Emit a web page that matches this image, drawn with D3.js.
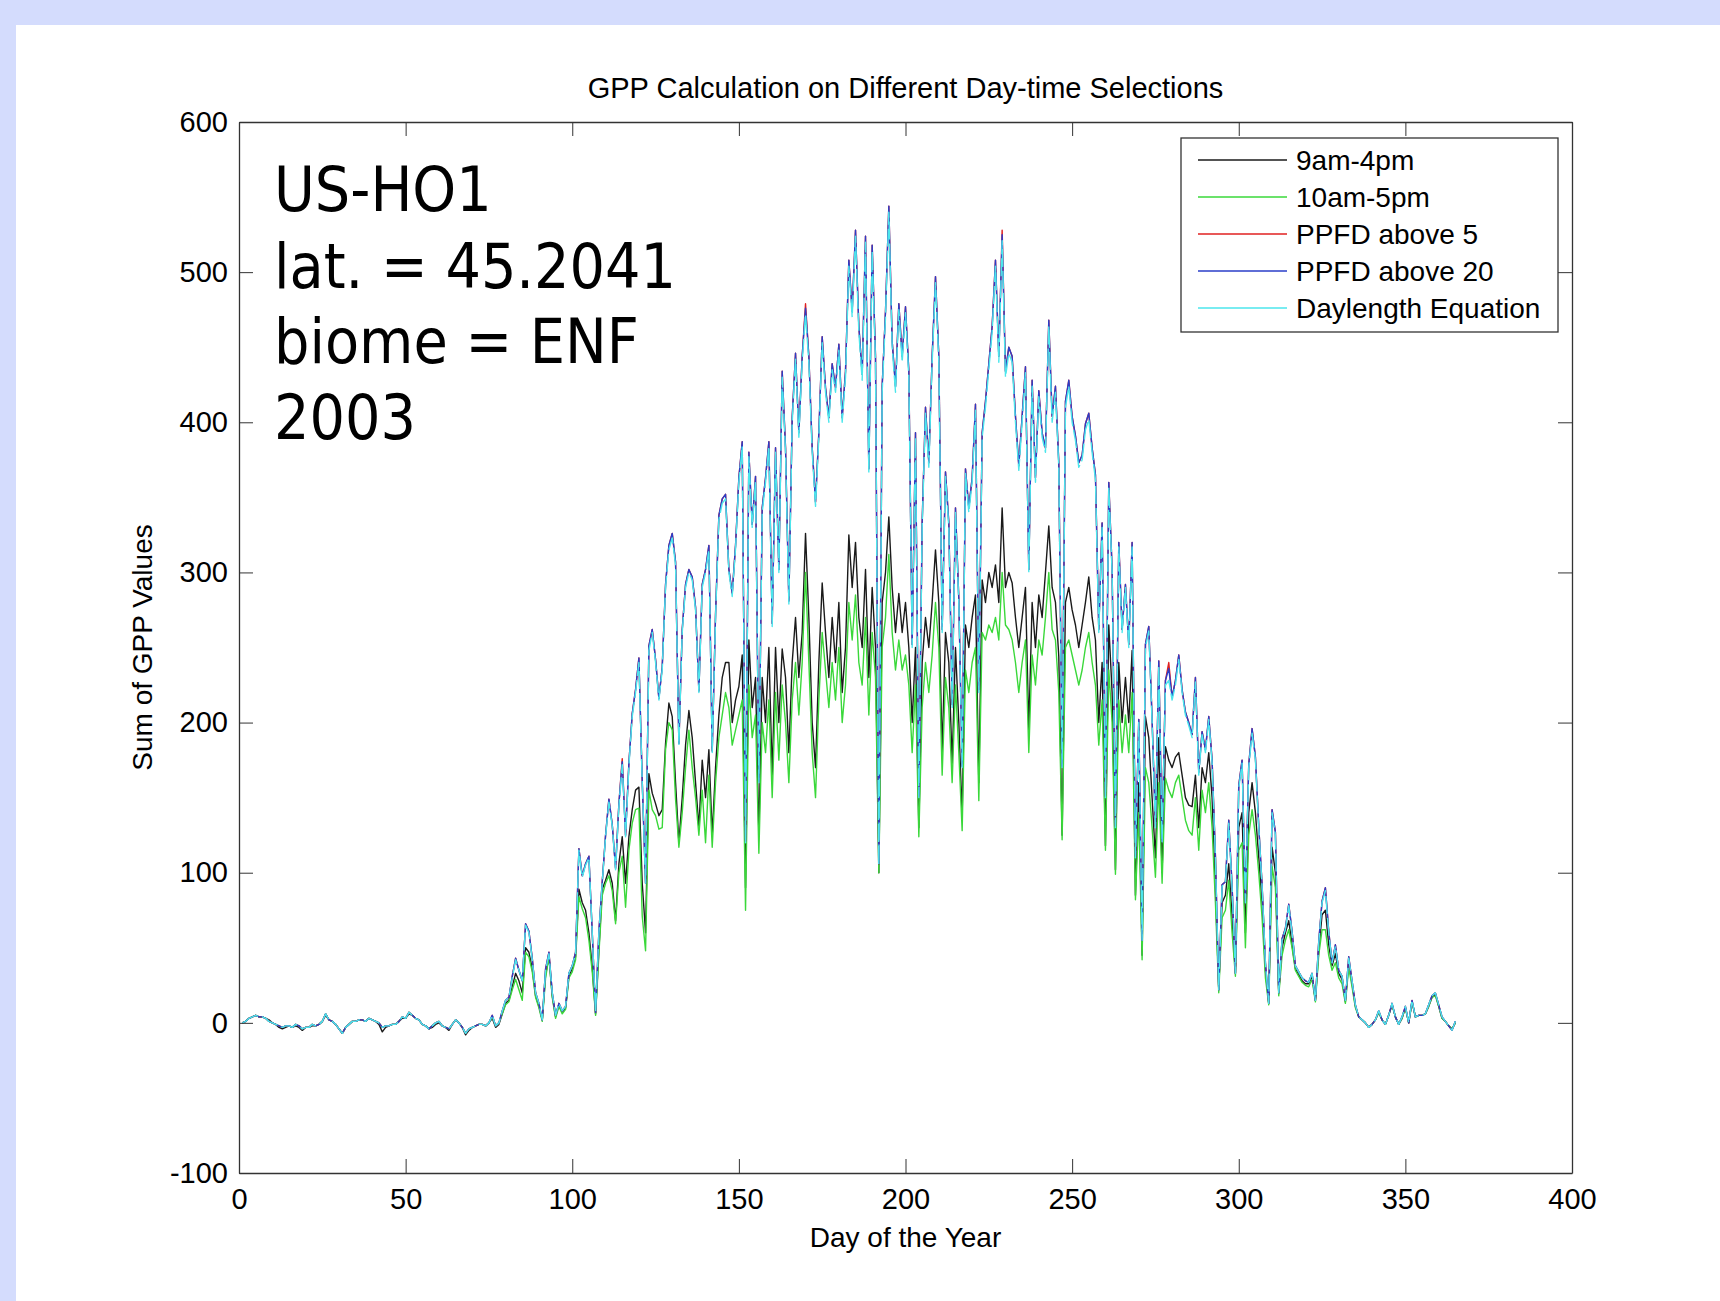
<!DOCTYPE html>
<html><head><meta charset="utf-8">
<script src="https://cdn.jsdelivr.net/npm/d3@7"></script>
<style>body{margin:0;background:#fff}svg{display:block}</style>
</head><body><svg id="c" width="1720" height="1301"></svg>
<script>
const days = d3.range(1, 366);

const nineToFour = [0,1,3,4,5,4,4,3,2,0,
-1,-3,-4,-3,-2,-3,-2,-3,-5,-3,
-3,-2,-2,-1,1,5,2,1,-1,-4,
-7,-3,-1,1,1,2,2,1,3,2,
1,-1,-6,-3,-2,-1,-1,1,3,3,
6,5,3,2,-1,-2,-4,-3,-1,0,
-2,-3,-5,-1,2,0,-3,-8,-5,-3,
-2,-1,-1,-2,0,3,-3,-1,
6,13,15,24,33,28,20,50,47,36,
18,11,2,32,44,18,4,12,7,10,
31,36,44,
89,80,75,60,37,6,49,89,95,102,
93,68,106,124,93,124,142,155,157,93,
60,166,153,146,138,142,186,213,204,160,
120,150,185,208,190,160,130,175,150,182,
125,170,205,230,240,240,200,215,224,245,
90,255,210,230,125,230,200,250,165,
250,200,249,230,180,240,270,230,260,326,
270,200,170,240,293,260,230,270,240,280,
220,250,325,290,320,270,250,302,230,290,
250,100,280,300,337,290,260,286,260,280,
250,200,250,130,240,270,250,280,315,280,
180,260,240,173,250,200,138,265,250,270,
285,160,295,280,300,290,305,280,343,290,
300,293,270,250,270,290,195,280,250,285,
270,300,331,290,280,244,125,280,290,275,
265,250,265,280,297,270,255,200,240,118,
265,220,102,240,200,230,200,248,85,160,
45,204,190,150,110,190,100,184,175,170,
177,180,165,150,145,144,165,130,170,160,
180,150,90,22,80,85,106,70,33,130,
140,60,140,160,140,110,80,35,13,117,
100,20,50,60,68,52,36,32,28,26,
26,31,15,48,72,75,52,38,46,33,
29,14,40,26,11,4,2,0,-3,-1,
2,7,2,-1,5,12,4,-1,3,10,
0,14,4,5,5,6,11,17,19,11,
3,1,-2,-4,0];

const tenToFive = [0,1,3,4,5,4,4,3,1,0,
-1,-2,-3,-2,-2,-3,-1,-2,-4,-3,
-3,-1,-2,-1,1,6,2,1,-1,-4,
-7,-3,-1,1,1,2,2,1,3,2,
1,0,-3,-2,-2,-1,-1,1,4,3,
7,5,3,2,-1,-2,-4,-2,0,1,
-2,-3,-4,-1,2,0,-3,-7,-4,-3,
-2,-1,-1,-2,0,4,-2,0,
6,12,14,22,29,22,15,47,44,34,
17,10,1,30,44,17,3,11,6,9,
30,34,42,
84,76,70,55,34,5,46,85,93,98,
88,66,100,111,77,115,133,142,143,71,
48,155,142,138,129,130,182,200,195,149,
117,140,170,195,170,150,125,155,120,165,
117,160,190,205,220,210,185,195,205,215,
75,225,190,205,113,200,180,215,150,
220,175,225,200,160,215,240,205,240,300,
240,180,150,215,260,235,210,240,215,250,
200,225,280,255,285,240,225,270,205,260,
230,100,250,270,312,260,235,255,235,245,
225,180,225,124,210,240,220,245,280,250,
165,230,210,160,225,180,128,235,220,240,
250,148,260,255,265,260,270,255,300,265,
262,255,240,220,240,255,180,245,225,255,
245,270,300,262,255,220,122,250,255,245,
235,225,235,250,260,240,225,185,215,115,
235,200,99,215,180,205,180,220,82,140,
42,170,160,130,97,160,93,163,155,150,
160,165,150,135,128,125,150,115,155,140,
160,130,80,20,70,75,95,60,31,115,
120,50,125,142,125,100,70,30,12,104,
90,18,45,55,62,50,35,31,27,25,
24,29,14,45,62,62,45,35,40,30,
26,13,37,24,10,4,2,0,-3,-1,
2,7,2,-1,5,12,4,-1,3,10,
0,14,4,5,5,6,11,17,18,11,
3,1,-2,-4,0];

const ppfdAbove5 = [0,1,3,4,5,4,4,3,1,0,
-1,-2,-3,-2,-2,-3,-1,-2,-4,-3,
-3,-1,-2,-1,1,6,2,1,-1,-4,
-7,-3,-1,1,1,2,2,1,3,2,
1,0,-3,-2,-2,-1,-1,1,4,3,
7,5,3,2,-1,-2,-4,-2,0,1,
-2,-3,-4,-1,2,0,-3,-7,-4,-3,
-2,-1,-1,-2,0,5,-2,0,
8,15,17,31,43,35,28,66,61,43,
20,13,2,36,47,20,5,13,8,11,
33,38,47,
116,98,106,111,60,7,61,94,125,149,
132,103,146,176,125,173,206,222,243,161,
93,251,262,242,216,237,292,318,326,307,
186,262,292,302,297,277,221,292,302,318,
181,272,338,349,352,302,286,318,363,387,
121,380,332,364,161,343,363,387,266,
383,302,434,383,281,403,446,393,444,479,
444,383,347,393,457,423,403,439,423,452,
403,434,508,474,528,464,432,524,369,518,
444,106,424,474,544,454,424,479,444,477,
434,252,393,151,333,410,373,444,497,444,
262,367,333,212,343,282,171,369,343,363,
412,222,393,414,439,464,508,444,528,434,
450,444,404,371,404,437,302,428,363,421,
393,383,468,404,424,373,171,414,428,404,
391,373,378,399,406,383,365,262,333,151,
360,302,131,320,262,292,252,320,111,202,
55,252,264,202,131,241,121,228,240,217,
228,245,222,207,200,192,230,167,194,182,
204,175,111,22,92,94,135,91,33,158,
175,81,172,196,177,131,92,40,13,142,
127,20,56,63,79,61,38,34,30,28,
27,33,15,54,81,90,61,40,52,35,
31,15,44,28,12,4,2,0,-3,-1,
2,8,2,-1,5,13,4,-1,4,11,
0,15,4,5,5,6,12,18,20,12,
4,1,-2,-5,1];

const ppfdAbove20 = [0,1,3,4,5,4,4,3,1,0,
-1,-2,-3,-2,-2,-3,-1,-2,-4,-3,
-3,-1,-2,-1,1,6,2,1,-1,-4,
-7,-3,-1,1,1,2,2,1,3,2,
1,0,-3,-2,-2,-1,-1,1,4,3,
7,5,3,2,-1,-2,-4,-2,0,1,
-2,-3,-4,-1,2,0,-3,-7,-4,-3,
-2,-1,-1,-2,0,5,-2,0,
8,15,17,31,43,35,28,66,61,43,
20,13,2,36,47,20,5,13,8,11,
33,38,47,
116,98,106,111,60,7,61,94,125,149,
132,103,146,174,125,173,206,222,243,161,
93,251,262,242,216,237,292,318,326,307,
186,262,292,302,297,277,221,292,302,318,
181,272,338,349,352,302,286,318,363,387,
121,380,332,364,161,343,363,387,266,
383,302,434,383,281,403,446,393,444,476,
444,383,347,393,457,423,403,439,423,452,
403,434,508,474,528,464,432,524,369,518,
444,106,424,474,544,454,424,479,444,477,
434,252,393,151,333,410,373,444,497,444,
262,367,333,212,343,282,171,369,343,363,
412,222,393,414,439,464,508,444,525,434,
450,444,404,371,404,437,302,428,363,421,
393,383,468,404,424,373,171,414,428,404,
391,373,378,399,406,383,365,262,333,151,
360,302,131,320,262,292,252,320,111,202,
55,252,264,202,131,241,121,228,236,217,
228,245,222,207,200,192,230,167,194,182,
204,175,111,22,92,94,135,91,33,158,
175,81,172,196,177,131,92,40,13,142,
127,20,56,63,79,61,38,34,30,28,
27,33,15,54,81,90,61,40,52,35,
31,15,44,28,12,4,2,0,-3,-1,
2,8,2,-1,5,13,4,-1,4,11,
0,15,4,5,5,6,12,18,20,12,
4,1,-2,-5,1];

const daylengthEq = [0,1,3,4,5,4,4,3,1,0,
-1,-2,-3,-2,-2,-3,-1,-2,-4,-3,
-3,-1,-2,-1,1,6,2,1,-1,-4,
-7,-3,-1,1,1,2,2,1,3,2,
1,0,-3,-2,-2,-1,-1,1,4,3,
7,5,3,2,-1,-2,-4,-2,0,1,
-2,-3,-4,-1,2,0,-3,-7,-4,-3,
-2,-1,-1,-2,0,5,-2,0,
8,15,17,30,42,35,28,65,60,42,
20,13,2,35,46,20,5,13,8,11,
33,38,46,
115,97,105,110,60,7,60,93,124,147,
131,102,144,172,124,171,204,220,240,160,
93,248,260,240,215,235,290,315,323,305,
185,260,290,300,295,275,220,290,300,315,
180,270,335,346,349,300,284,316,360,384,
120,377,330,361,160,340,360,384,264,
380,300,430,380,279,400,442,390,440,472,
440,380,344,390,453,420,400,435,420,448,
400,430,504,470,524,460,428,520,366,514,
440,105,420,470,540,450,420,475,440,473,
430,250,390,150,330,406,370,440,493,440,
260,364,330,210,340,280,170,366,340,360,
408,220,390,410,435,460,504,440,521,430,
446,440,400,368,400,433,300,424,360,417,
390,380,464,400,420,370,170,410,424,400,
388,370,375,395,402,380,362,260,330,150,
357,300,130,317,260,290,250,317,110,200,
55,250,261,200,130,238,120,225,228,215,
225,242,220,205,198,190,227,165,192,180,
202,173,110,22,91,93,133,90,33,156,
173,80,170,193,175,130,91,40,13,140,
125,20,55,62,78,60,38,34,30,28,
27,33,15,53,80,88,60,40,51,35,
31,15,43,28,12,4,2,0,-3,-1,
2,8,2,-1,5,13,4,-1,4,11,
0,15,4,5,5,6,12,18,20,12,
4,1,-2,-5,1];

const seriesNames = ["9am-4pm", "10am-5pm", "PPFD above 5", "PPFD above 20", "Daylength Equation"];
const seriesColors = ["#1a1a1a", "#3ad83a", "#e02020", "#2a3ec8", "#4ce6ec"];
const xTicks = [0, 50, 100, 150, 200, 250, 300, 350, 400];
const yTicks = [-100, 0, 100, 200, 300, 400, 500, 600];
const chartTitle = "GPP Calculation on Different Day-time Selections";
const xLabel = "Day of the Year";
const yLabel = "Sum of GPP Values";
const annotationLines = ["US-HO1", "lat. = 45.2041", "biome = ENF", "2003"];

const allSeries = [nineToFour, tenToFive, ppfdAbove5, ppfdAbove20, daylengthEq];

(function draw() {
  const svg = d3.select("#c");
  const FONT = "'Liberation Sans', Arial, Helvetica, sans-serif";

  svg.append("rect").attr("x", 0).attr("y", 0).attr("width", 1720).attr("height", 1301).attr("fill", "#ffffff");
  svg.append("rect").attr("x", 0).attr("y", 0).attr("width", 1720).attr("height", 25).attr("fill", "#d4dcfd");
  svg.append("rect").attr("x", 0).attr("y", 0).attr("width", 16).attr("height", 1301).attr("fill", "#d4dcfd");

  const L = 239, R = 1572, T = 122, B = 1173;
  const x = d3.scaleLinear().domain([0, 400]).range([L, R]);
  const y = d3.scaleLinear().domain([-100, 600]).range([B, T]);

  const line = d3.line().x((d, i) => x(days[i])).y(d => y(d));
  const plot = svg.append("g");
  allSeries.forEach((s, k) => {
    plot.append("path")
      .datum(s)
      .attr("d", line)
      .attr("fill", "none")
      .attr("stroke", seriesColors[k])
      .attr("stroke-width", 1.4)
      .attr("stroke-linejoin", "round")
      .attr("stroke-dasharray", k === 4 ? "18,4" : null);
  });

  const axStroke = "#333";
  const fmt = d => String(d);
  const gBottom = svg.append("g").attr("transform", `translate(0,${B})`)
    .call(d3.axisBottom(x).tickValues(xTicks).tickSizeInner(-14).tickSizeOuter(0).tickPadding(15).tickFormat(fmt));
  const gLeft = svg.append("g").attr("transform", `translate(${L},0)`)
    .call(d3.axisLeft(y).tickValues(yTicks).tickSizeInner(-14).tickSizeOuter(0).tickPadding(11).tickFormat(fmt));
  const gTop = svg.append("g").attr("transform", `translate(0,${T})`)
    .call(d3.axisTop(x).tickValues(xTicks).tickSizeInner(-14).tickSizeOuter(0).tickFormat(""));
  const gRight = svg.append("g").attr("transform", `translate(${R},0)`)
    .call(d3.axisRight(y).tickValues(yTicks).tickSizeInner(-14).tickSizeOuter(0).tickFormat(""));
  [gBottom, gLeft, gTop, gRight].forEach(g => {
    g.selectAll("path.domain").attr("stroke", axStroke).attr("stroke-width", 1.3);
    g.selectAll(".tick line").attr("stroke", axStroke).attr("stroke-width", 1);
    g.selectAll(".tick text").attr("fill", "#000").style("font-family", FONT).style("font-size", "29px");
  });

  svg.append("text").attr("x", (L + R) / 2).attr("y", 98).attr("text-anchor", "middle")
    .style("font-family", FONT).style("font-size", "29px").attr("fill", "#000").text(chartTitle);
  svg.append("text").attr("x", (L + R) / 2).attr("y", 1247).attr("text-anchor", "middle")
    .style("font-family", FONT).style("font-size", "28px").attr("fill", "#000").text(xLabel);
  svg.append("text").attr("transform", `translate(152,${(T + B) / 2}) rotate(-90)`).attr("text-anchor", "middle")
    .style("font-family", FONT).style("font-size", "28px").attr("fill", "#000").text(yLabel);

  const annBase = [211, 288, 363, 439];
  annotationLines.forEach((t, i) => {
    svg.append("text").attr("x", 274).attr("y", annBase[i])
      .style("font-family", "'DejaVu Sans Condensed', 'DejaVu Sans', sans-serif")
      .style("font-stretch", "condensed")
      .style("font-size", "62px").attr("fill", "#000").text(t);
  });

  const lg = svg.append("g");
  lg.append("rect").attr("x", 1181).attr("y", 138).attr("width", 377).attr("height", 194)
    .attr("fill", "#fff").attr("stroke", axStroke).attr("stroke-width", 1.3);
  seriesNames.forEach((n, i) => {
    const yy = 160 + i * 37;
    lg.append("line").attr("x1", 1198).attr("x2", 1287).attr("y1", yy).attr("y2", yy)
      .attr("stroke", seriesColors[i]).attr("stroke-width", 1.3);
    lg.append("text").attr("x", 1296).attr("y", yy).attr("dy", "0.35em")
      .style("font-family", FONT).style("font-size", "28px").attr("fill", "#000").text(n);
  });
})();
</script>
</body></html>
